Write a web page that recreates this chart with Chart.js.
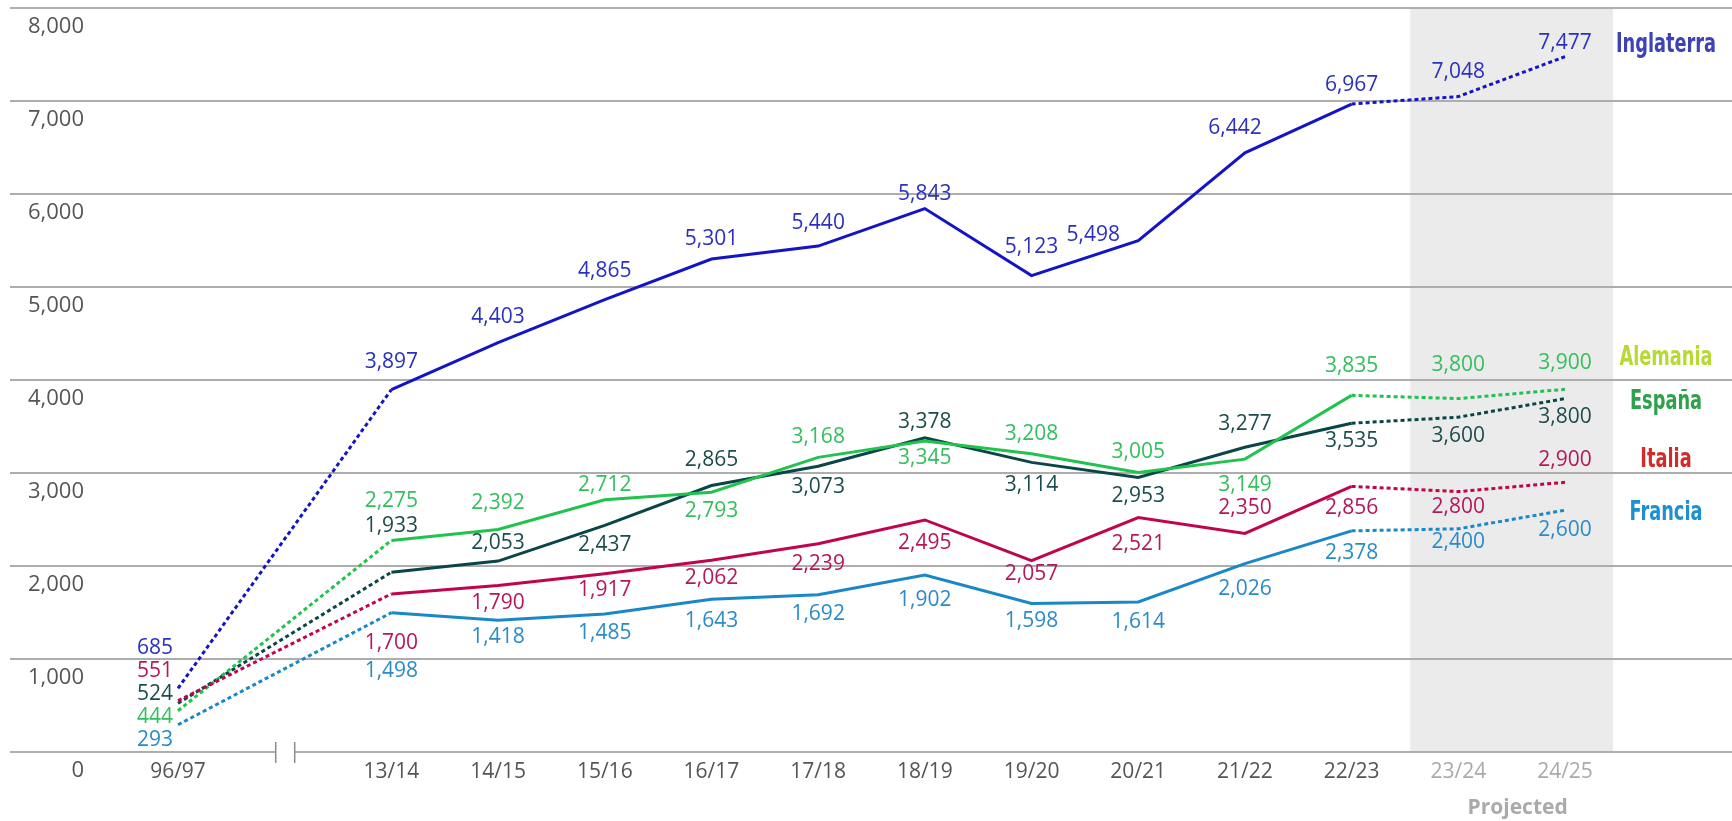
<!DOCTYPE html>
<html>
<head>
<meta charset="utf-8">
<script src="https://cdn.jsdelivr.net/npm/chart.js@4"></script>
<style>
  html, body { margin: 0; padding: 0; background: #fff; }
  #wrap { width: 1732px; height: 821px; position: relative; }
</style>
</head>
<body>
<div id="wrap"><canvas id="chart"></canvas></div>
<script>
// seasons; the blank slot is the broken part of the axis
const seasons = ['96/97', '', '13/14', '14/15', '15/16', '16/17', '17/18', '18/19', '19/20', '20/21', '21/22', '22/23', '23/24', '24/25'];
const yTicks = [0, 1000, 2000, 3000, 4000, 5000, 6000, 7000, 8000];

const inglaterra = [685, null, 3897, 4403, 4865, 5301, 5440, 5843, 5123, 5498, 6442, 6967, 7048, 7477];
const alemania   = [444, null, 2275, 2392, 2712, 2793, 3168, 3345, 3208, 3005, 3149, 3835, 3800, 3900];
const espana     = [524, null, 1933, 2053, 2437, 2865, 3073, 3378, 3114, 2953, 3277, 3535, 3600, 3800];
const italia     = [551, null, 1700, 1790, 1917, 2062, 2239, 2495, 2057, 2521, 2350, 2856, 2800, 2900];
const francia    = [293, null, 1498, 1418, 1485, 1643, 1692, 1902, 1598, 1614, 2026, 2378, 2400, 2600];

const seriesNames = ['Inglaterra', 'Alemania', 'España', 'Italia', 'Francia'];
const projectedLabel = 'Projected';

// label placement (px offsets from the point), kept apart from the values
const labelDy = {
  Inglaterra: [-40, 0, -28, -26, -29, -20, -23, -15, -29, -6, -25, -19, -25, -14],
  Alemania:   [6, 0, -39, -27, -15, 19, -20, 17, -20, -21, 26, -29, -34, -26],
  'España':   [-9, 0, -46, -18, 20, -26, 21, -16, 23, 19, -23, 18, 19, 18],
  Italia:     [-30, 0, 49, 17, 16, 18, 20, 23, 13, 26, -25, 22, 15, -22],
  Francia:    [15, 0, 58, 17, 19, 22, 19, 25, 18, 20, 25, 22, 13, 20]
};
const labelDx = { Inglaterra: { 9: -45, 10: -10 } };
const legendY = { Inglaterra: 45, Alemania: 358, 'España': 402, Italia: 460, Francia: 513 };

const colors = {
  Inglaterra: { line: '#1414c6', text: '#2a30c0', legend: '#3d42b4' },
  Alemania:   { line: '#22c24e', text: '#33bf5c', legend: '#b6d934' },
  'España':   { line: '#0b4646', text: '#1d4c4c', legend: '#2ca34b' },
  Italia:     { line: '#c0054f', text: '#b4185a', legend: '#d42a2c' },
  Francia:    { line: '#1a87c8', text: '#2a8bc8', legend: '#1e90d0' }
};

const FONT = '"Open Sans", "Noto Sans", sans-serif';
const fmt = (v) => v.toLocaleString('en-US');

function makeDataset(name, data) {
  const c = colors[name].line;
  return {
    label: name,
    data,
    borderColor: c,
    backgroundColor: c,
    borderWidth: 3,
    pointRadius: 0,
    tension: 0,
    spanGaps: true,
    segment: {
      // dotted before 13/14 and for the projected seasons
      borderDash: (ctx) => (ctx.p0DataIndex < 2 || ctx.p1DataIndex > 11) ? [4, 3] : undefined
    }
  };
}

const backdrop = {
  id: 'backdrop',
  beforeDatasetsDraw(chart) {
    const { ctx, chartArea, scales: { x, y } } = chart;
    ctx.save();
    // projected band
    const bx0 = x.getPixelForValue(11.55);
    const bx1 = x.getPixelForValue(13.45);
    ctx.fillStyle = '#ebebeb';
    ctx.fillRect(bx0, chartArea.top, bx1 - bx0, chartArea.bottom - chartArea.top);

    // horizontal grid, full width
    ctx.strokeStyle = '#adadad';
    ctx.lineWidth = 2;
    const gapMid = x.getPixelForValue(1);
    yTicks.forEach(v => {
      const py = Math.round(y.getPixelForValue(v));
      ctx.beginPath();
      if (v === 0) {
        ctx.moveTo(10, py); ctx.lineTo(gapMid - 9, py);
        ctx.moveTo(gapMid + 10, py); ctx.lineTo(chart.width, py);
      } else {
        ctx.moveTo(10, py); ctx.lineTo(chart.width, py);
      }
      ctx.stroke();
    });
    // axis break marks
    const py0 = Math.round(y.getPixelForValue(0));
    ctx.strokeStyle = '#8a8a8a';
    ctx.lineWidth = 1.5;
    [gapMid - 9, gapMid + 10].forEach(bx => {
      ctx.beginPath();
      ctx.moveTo(bx, py0 - 10); ctx.lineTo(bx, py0 + 11);
      ctx.stroke();
    });
    ctx.restore();
  }
};

const texts = {
  id: 'texts',
  afterDatasetsDraw(chart) {
    const { ctx, scales: { x, y } } = chart;
    ctx.save();
    ctx.textBaseline = 'middle';

    // y tick labels sit under their grid line
    ctx.font = '22px ' + FONT;
    ctx.fillStyle = '#555';
    ctx.textAlign = 'right';
    yTicks.forEach(v => {
      ctx.fillText(fmt(v), 84, y.getPixelForValue(v) + 19);
    });

    // x labels
    ctx.font = '21px ' + FONT;
    ctx.textAlign = 'center';
    const xl = y.getPixelForValue(0) + 20;
    seasons.forEach((s, i) => {
      if (!s) return;
      ctx.fillStyle = i >= 12 ? '#aaaaaa' : '#555';
      ctx.fillText(s, x.getPixelForValue(i), xl);
    });
    ctx.font = 'bold 21px ' + FONT;
    ctx.fillStyle = '#aaaaaa';
    ctx.fillText(projectedLabel, x.getPixelForValue(12.5) + 6, xl + 36);

    // value labels
    ctx.font = '21px ' + FONT;
    chart.data.datasets.forEach((ds, di) => {
      const meta = chart.getDatasetMeta(di);
      const name = ds.label;
      ctx.fillStyle = colors[name].text;
      meta.data.forEach((pt, i) => {
        const v = ds.data[i];
        if (v == null) return;
        const dy = labelDy[name][i];
        const dx = (labelDx[name] && labelDx[name][i]) || 0;
        if (i === 0) {
          ctx.textAlign = 'right';
          ctx.fillText(fmt(v), pt.x - 5, pt.y + dy);
        } else {
          ctx.textAlign = 'center';
          ctx.fillText(fmt(v), pt.x + dx, pt.y + dy);
        }
      });
    });

    // series names on the right, condensed
    ctx.font = 'bold 26px "DejaVu Sans Condensed", "DejaVu Sans", sans-serif';
    ctx.textAlign = 'center';
    seriesNames.forEach(n => {
      ctx.save();
      ctx.translate(1666, legendY[n]);
      ctx.scale(0.76, 1);
      ctx.fillStyle = colors[n].legend;
      ctx.fillText(n, 0, 0);
      ctx.restore();
    });
    ctx.restore();
  }
};

new Chart(document.getElementById('chart'), {
  type: 'line',
  data: {
    labels: seasons,
    datasets: [
      makeDataset('Francia', francia),
      makeDataset('Italia', italia),
      makeDataset('Alemania', alemania),
      makeDataset('España', espana),
      makeDataset('Inglaterra', inglaterra)
    ]
  },
  options: {
    responsive: true,
    maintainAspectRatio: false,
    devicePixelRatio: 1,
    animation: false,
    layout: { padding: { left: 178, right: 167, top: 8, bottom: 69 } },
    plugins: {
      legend: { display: false },
      tooltip: { enabled: false }
    },
    scales: {
      x: { type: 'category', offset: false, display: false },
      y: { min: 0, max: 8000, display: false }
    }
  },
  plugins: [backdrop, texts]
});
</script>
</body>
</html>
